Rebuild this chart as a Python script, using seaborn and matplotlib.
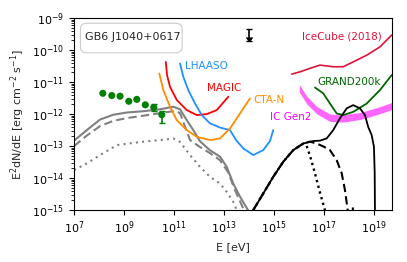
import matplotlib
matplotlib.use("Agg")
import matplotlib.pyplot as plt
from matplotlib.patches import FancyBboxPatch
import numpy as np
import pandas as pd
import seaborn as sns

sns.set_style("ticks")
plt.rcParams["font.family"] = ["DejaVu Sans"]
plt.rcParams["axes.edgecolor"] = "black"
plt.rcParams["xtick.color"] = "black"
plt.rcParams["ytick.color"] = "black"

# all values are log10(E / eV) and log10(E^2 dN/dE / erg cm^-2 s^-1)
fermi_logE = [8.15, 8.51, 8.84, 9.19, 9.51, 9.85, 10.19, 10.51]
fermi_logF = [-11.35, -11.42, -11.44, -11.60, -11.54, -11.71, -11.79, -12.02]
fermi_lo = [None, None, None, None, None, None, -11.90, -12.27]
fermi_hi = [None, None, None, None, None, None, -11.70, -11.90]

gray_solid_logE = [7.0, 7.51, 8.04, 8.57, 9.11, 9.77, 10.44, 10.97, 11.24, 11.51, 11.77,
                   12.04, 12.44, 12.84, 13.11, 13.37, 13.64, 13.96]
gray_solid_logF = [-12.83, -12.5, -12.17, -12.02, -11.95, -11.91, -11.85, -11.77, -11.85,
                   -12.19, -12.5, -12.85, -13.13, -13.33, -13.65, -14.17, -14.58, -15.0]
gray_dash_logE = [7.0, 7.51, 8.04, 8.57, 9.11, 9.77, 10.44, 11.04, 11.24, 11.64, 12.04,
                  12.44, 12.84, 13.16, 13.44, 13.8]
gray_dash_logF = [-13.0, -12.67, -12.375, -12.21, -12.125, -12.05, -11.97, -11.9, -11.97,
                  -12.81, -13.03, -13.22, -13.44, -13.81, -14.375, -15.0]
gray_dot_logE = [7.0, 7.51, 8.04, 8.71, 9.37, 10.04, 10.71, 10.97, 11.24, 11.64, 12.04,
                 12.44, 12.84, 13.11, 13.37, 13.51]
gray_dot_logF = [-13.75, -13.54, -13.28, -12.97, -12.9, -12.84, -12.79, -12.76, -12.87,
                 -13.28, -13.65, -13.96, -14.17, -14.43, -14.74, -15.0]

magic_logE = [10.67, 10.72, 10.84, 11.11, 11.51, 11.91, 12.31, 12.71, 13.17]
magic_logF = [-10.37, -10.78, -11.15, -11.56, -11.875, -12.03, -12.0, -11.875, -11.46]
lhaaso_logE = [11.24, 11.37, 11.57, 11.84, 12.11, 12.44, 12.84, 13.24, 13.48, 13.77,
               14.17, 14.57, 14.84, 14.97]
lhaaso_logF = [-10.42, -10.83, -11.25, -11.67, -12.03, -12.29, -12.42, -12.5, -12.81,
               -13.07, -13.28, -13.125, -12.84, -12.5]
cta_logE = [10.41, 10.57, 10.84, 11.11, 11.51, 11.91, 12.44, 12.84, 13.24, 13.64, 14.04]
cta_logF = [-10.73, -11.25, -11.77, -12.19, -12.5, -12.71, -12.81, -12.76, -12.45,
            -11.98, -11.51]

icecube_logE = [15.71, 16.04, 16.44, 16.84, 17.37, 17.77, 18.17, 18.71, 19.24, 19.71]
icecube_logF = [-10.75, -10.68, -10.57, -10.47, -10.52, -10.52, -10.37, -10.16, -9.9, -9.53]
grand_logE = [16.64, 16.97, 17.24, 17.51, 17.77, 18.17, 18.71, 19.24, 19.71]
grand_logF = [-11.17, -11.35, -11.67, -11.98, -12.03, -11.93, -11.67, -11.25, -10.78]
gen2_logE = [16.01, 16.31, 16.71, 17.24, 17.77, 18.44, 19.11, 19.71]
gen2_lo = [-11.31, -11.68, -11.99, -12.23, -12.25, -12.17, -12.02, -11.86]
gen2_hi = [-11.07, -11.44, -11.76, -12.0, -12.02, -11.95, -11.80, -11.64]

nu_rise_logE = [14.17, 14.57, 14.97, 15.37, 15.77, 16.17]
nu_rise_logF = [-15.0, -14.48, -13.96, -13.49, -13.125, -12.92]
nu_solid_logE = [16.57, 16.84, 17.11, 17.37, 17.64, 17.91, 18.17, 18.44, 18.64, 18.77,
                 18.91, 19.0, 19.03, 19.04]
nu_solid_logF = [-12.84, -12.83, -12.76, -12.5, -12.13, -11.82, -11.72, -11.82, -12.03,
                 -12.4, -12.66, -13.02, -13.85, -15.0]
nu_dash_logE = [16.44, 16.71, 17.0, 17.24, 17.51, 17.71, 17.84, 17.95, 18.05, 18.15, 18.2]
nu_dash_logF = [-12.86, -12.92, -13.02, -13.125, -13.44, -13.85, -14.375, -15.0, -15.3,
                -14.9, -15.4]
nu_dot_logE = [16.3, 16.44, 16.64, 16.84, 17.04]
nu_dot_logF = [-12.98, -13.3, -13.85, -14.45, -15.0]

limit_logE = 14.01
limit_top, limit_bottom = -9.34, -9.72

labels = [("LHAASO", 11.44, -10.50, "dodgerblue"),
          ("MAGIC", 12.32, -11.19, "red"),
          ("CTA-N", 14.16, -11.56, "darkorange"),
          ("IC Gen2", 14.84, -12.09, "magenta"),
          ("GRAND200k", 16.72, -11.00, "darkgreen"),
          ("IceCube (2018)", 16.12, -9.59, "crimson")]
source_name = "GB6 J1040+0617"


def curve(logE, logF):
    return pd.DataFrame({"E": 10.0 ** np.array(logE), "F": 10.0 ** np.array(logF)})


fig = plt.figure(figsize=(4.07, 2.62), dpi=100)
ax = fig.add_axes([0.182, 0.198, 0.781, 0.733])

lines = [
    (gray_solid_logE, gray_solid_logF, "gray", "-", 1.5),
    (gray_dash_logE, gray_dash_logF, "gray", (0, (4, 2)), 1.5),
    (gray_dot_logE, gray_dot_logF, "gray", (0, (1, 2)), 1.5),
    (magic_logE, magic_logF, "red", "-", 1.3),
    (lhaaso_logE, lhaaso_logF, "dodgerblue", "-", 1.3),
    (cta_logE, cta_logF, "darkorange", "-", 1.3),
    (icecube_logE, icecube_logF, "crimson", "-", 1.2),
    (grand_logE, grand_logF, "darkgreen", "-", 1.3),
    (nu_rise_logE + nu_solid_logE, nu_rise_logF + nu_solid_logF, "black", "-", 1.3),
    (nu_rise_logE + nu_dash_logE, nu_rise_logF + nu_dash_logF, "black", (0, (4, 2)), 1.5),
    (nu_rise_logE + nu_dot_logE, nu_rise_logF + nu_dot_logF, "black", (0, (1, 1.5)), 1.7),
]
for logE, logF, color, ls, lw in lines:
    sns.lineplot(data=curve(logE, logF), x="E", y="F", ax=ax, color=color,
                 linestyle=ls, linewidth=lw, sort=False, estimator=None)

ax.fill_between(10.0 ** np.array(gen2_logE), 10.0 ** np.array(gen2_lo),
                10.0 ** np.array(gen2_hi), color="magenta", alpha=0.6, linewidth=0)

pts = curve(fermi_logE, fermi_logF)
sns.scatterplot(data=pts, x="E", y="F", ax=ax, color="green", s=26,
                edgecolor="none", zorder=4)
for e, f, lo, hi in zip(fermi_logE, fermi_logF, fermi_lo, fermi_hi):
    if lo is not None:
        ax.errorbar([10.0 ** e], [10.0 ** f],
                    yerr=[[10.0 ** f - 10.0 ** lo], [10.0 ** hi - 10.0 ** f]],
                    fmt="none", ecolor="green", elinewidth=1.2, capsize=2.5, zorder=4)

ax.errorbar([10.0 ** limit_logE], [10.0 ** limit_bottom],
            yerr=[[0], [10.0 ** limit_top - 10.0 ** limit_bottom]],
            fmt="none", ecolor="black", elinewidth=1.2, capsize=2)
ax.plot([10.0 ** limit_logE], [10.0 ** limit_bottom], marker=7, color="black",
        markersize=4, linestyle="none")

for text, le, lf, color in labels:
    ax.text(10.0 ** le, 10.0 ** lf, text, color=color, fontsize=7.5,
            ha="left", va="center")

# name box in the upper left corner, like a legend frame
ax.add_patch(FancyBboxPatch((0.03, 0.835), 0.3, 0.122, transform=ax.transAxes,
                            boxstyle="round,pad=0.01,rounding_size=0.02",
                            mutation_aspect=1.6, fc="white", ec="#cccccc",
                            lw=0.8, zorder=5))
ax.text(0.035, 0.9, source_name, transform=ax.transAxes, fontsize=8,
        ha="left", va="center", zorder=6)

ax.set_xscale("log")
ax.set_yscale("log")
ax.set_xlim(1e7, 10 ** 19.72)
ax.set_ylim(1e-15, 1e-9)
ax.set_xticks([10.0 ** k for k in range(7, 20, 2)])
ax.xaxis.set_minor_locator(matplotlib.ticker.NullLocator())
ax.set_yticks([10.0 ** k for k in range(-15, -8)])
ax.yaxis.set_minor_locator(matplotlib.ticker.LogLocator(subs=np.arange(2, 10)))
ax.yaxis.set_minor_formatter(matplotlib.ticker.NullFormatter())
ax.tick_params(labelsize=8)
ax.set_xlabel("E [eV]", fontsize=8)
ax.set_ylabel(r"E$^2$dN/dE [erg cm$^{-2}$ s$^{-1}$]", fontsize=8)
for sp in ax.spines.values():
    sp.set_visible(True)

fig.savefig("out.png", dpi=100)
